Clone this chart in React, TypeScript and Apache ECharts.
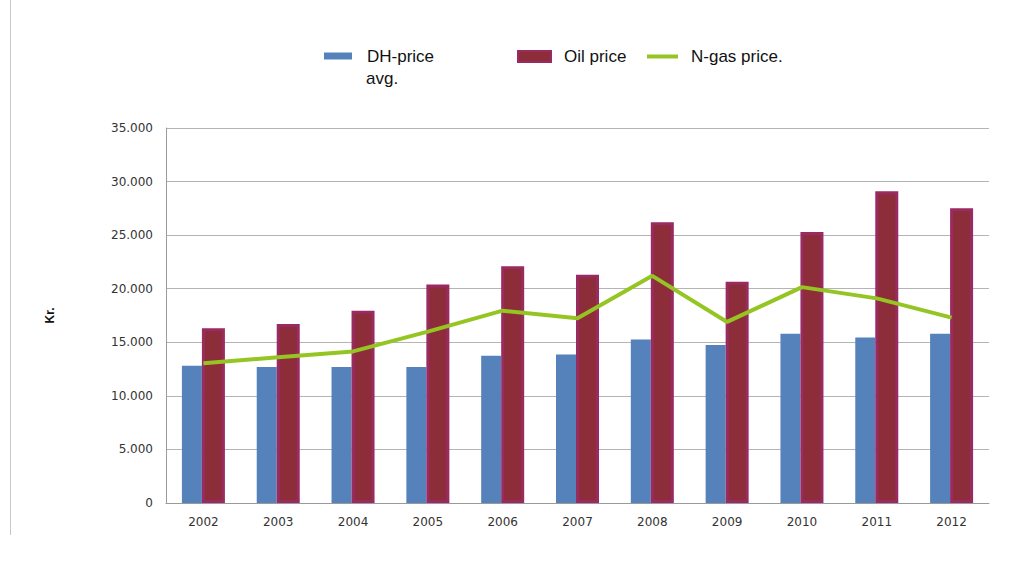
import React, { useEffect, useRef } from "react";
import * as echarts from "echarts";

const years = ["2002", "2003", "2004", "2005", "2006", "2007", "2008", "2009", "2010", "2011", "2012"];
const dhPrice = [12800, 12700, 12700, 12700, 13750, 13850, 15250, 14750, 15800, 15450, 15800];
const oilPrice = [16300, 16700, 17950, 20400, 22100, 21300, 26200, 20650, 25300, 29100, 27500];
const gasPrice = [13050, 13600, 14150, 16000, 17950, 17250, 21200, 16900, 20150, 19100, 17300];
const yTicks = [0, 5000, 10000, 15000, 20000, 25000, 30000, 35000];

const fmt = (v: number) => (v === 0 ? "0" : `${Math.round(v / 1000)}.000`);

export default function App() {
  const ref = useRef<HTMLDivElement>(null);
  useEffect(() => {
    if (!ref.current) return;
    const chart = echarts.init(ref.current, null, { renderer: "svg" });
    const legendFont = "Liberation Sans, Arial, sans-serif";
    const legendText = { fontFamily: legendFont, fontSize: 17, color: "#111", lineHeight: 20 };
    const axisFont = "DejaVu Sans, sans-serif";
    chart.setOption({
      animation: false,
      backgroundColor: "#fff",
      legend: [
        {
          data: ["DH-price avg."],
          left: 324,
          top: 46,
          padding: 0,
          itemWidth: 28,
          itemHeight: 7,
          icon: "rect",
          formatter: () => "DH-price",
          textStyle: { ...legendText, padding: [0, 0, 0, 10] },
          selectedMode: false,
        },
        {
          data: ["Oil price"],
          left: 517,
          top: 46.5,
          padding: 0,
          itemWidth: 33,
          itemHeight: 11,
          icon: "rect",
          textStyle: { ...legendText, padding: [0, 0, 0, 8] },
          selectedMode: false,
        },
        {
          data: ["N-gas price."],
          left: 647,
          top: 46.5,
          padding: 0,
          itemWidth: 31,
          itemHeight: 4,
          icon: "rect",
          textStyle: { ...legendText, padding: [0, 0, 0, 8] },
          selectedMode: false,
        },
      ],
      grid: { left: 166, right: 26, top: 128, bottom: 59, containLabel: false },
      xAxis: {
        type: "category",
        data: years,
        axisLine: { lineStyle: { color: "#9a9a9a" } },
        axisTick: { show: false },
        axisLabel: { color: "#333", fontSize: 12, fontFamily: axisFont, margin: 13 },
      },
      yAxis: {
        type: "value",
        min: 0,
        max: yTicks[yTicks.length - 1],
        interval: yTicks[1] - yTicks[0],
        name: "Kr.",
        nameLocation: "middle",
        nameGap: 110,
        nameTextStyle: { fontWeight: "bold", fontSize: 12, color: "#111", fontFamily: legendFont },
        axisLine: { show: true, lineStyle: { color: "#9a9a9a" } },
        axisTick: { show: false },
        splitLine: { lineStyle: { color: "#b4b4b4" } },
        axisLabel: {
          formatter: fmt,
          color: "#333",
          fontSize: 12,
          fontFamily: axisFont,
          margin: 13,
        },
      },
      series: [
        {
          name: "DH-price avg.",
          type: "bar",
          data: dhPrice,
          barWidth: 20,
          barGap: "0%",
          itemStyle: { color: "#5582BA" },
        },
        {
          name: "Oil price",
          type: "bar",
          data: oilPrice,
          barWidth: 23,
          barGap: "0%",
          itemStyle: { color: "#8E2D3A", borderColor: "#992A62", borderWidth: 3 },
        },
        {
          name: "N-gas price.",
          type: "line",
          data: gasPrice,
          symbol: "none",
          showSymbol: false,
          lineStyle: { color: "#95C523", width: 4 },
          itemStyle: { color: "#95C523" },
          z: 5,
        },
      ],
      graphic: [
        {
          type: "line",
          shape: { x1: 10.5, y1: 0, x2: 10.5, y2: 535 },
          style: { stroke: "#c8c8c8", lineWidth: 1 },
        },
        {
          type: "text",
          left: 366,
          top: 68,
          style: { text: "avg.", fontFamily: legendFont, fontSize: 17, fill: "#111", lineHeight: 20 },
        },
      ],
    });
    return () => chart.dispose();
  }, []);
  return (
    <div
      ref={ref}
      style={{ position: "absolute", left: 0, top: 0, width: 1015, height: 562, background: "#fff" }}
    />
  );
}
